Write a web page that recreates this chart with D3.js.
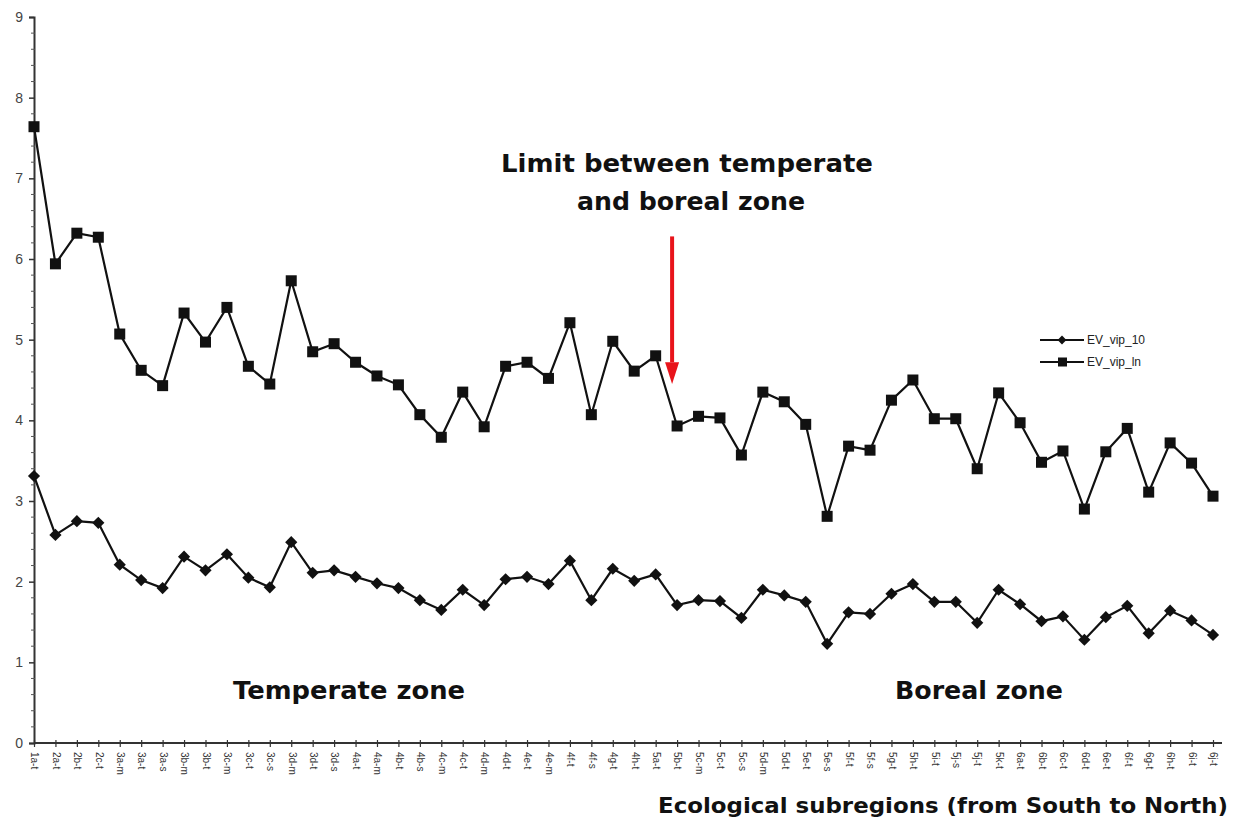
<!DOCTYPE html>
<html>
<head>
<meta charset="utf-8">
<script src="https://cdn.jsdelivr.net/npm/d3@7"></script>
<style>
  html, body { margin: 0; padding: 0; background: #ffffff; }
  svg { display: block; }
</style>
</head>
<body>
<svg id="chart" width="1240" height="823"></svg>
<script>
const categories = ["1a-t","2a-t","2b-t","2c-t","3a-m","3a-t","3a-s","3b-m","3b-t","3c-m",
  "3c-t","3c-s","3d-m","3d-t","3d-s","4a-t","4a-m","4b-t","4b-s","4c-m",
  "4c-t","4d-m","4d-t","4e-t","4e-m","4f-t","4f-s","4g-t","4h-t","5a-t",
  "5b-t","5c-m","5c-t","5c-s","5d-m","5d-t","5e-t","5e-s","5f-t","5f-s",
  "5g-t","5h-t","5i-t","5j-s","5j-t","5k-t","6a-t","6b-t","6c-t","6d-t",
  "6e-t","6f-t","6g-t","6h-t","6i-t","6j-t"];

const evVipLn = [7.64,5.94,6.32,6.27,5.07,4.62,4.43,5.33,4.97,5.40,
  4.67,4.45,5.73,4.85,4.95,4.72,4.55,4.44,4.07,3.79,
  4.35,3.92,4.67,4.72,4.52,5.21,4.07,4.98,4.61,4.80,
  3.93,4.05,4.03,3.57,4.35,4.23,3.95,2.81,3.68,3.63,
  4.25,4.50,4.02,4.02,3.40,4.34,3.97,3.48,3.62,2.90,
  3.61,3.90,3.11,3.72,3.47,3.06];

const evVip10 = [3.31,2.58,2.75,2.73,2.21,2.02,1.92,2.31,2.14,2.34,
  2.05,1.93,2.49,2.11,2.14,2.06,1.98,1.92,1.77,1.65,
  1.90,1.71,2.03,2.06,1.97,2.26,1.77,2.16,2.01,2.09,
  1.71,1.77,1.76,1.55,1.90,1.83,1.75,1.23,1.62,1.60,
  1.85,1.97,1.75,1.75,1.49,1.90,1.72,1.51,1.57,1.28,
  1.56,1.70,1.36,1.64,1.52,1.34];

const yTicks = [0,1,2,3,4,5,6,7,8,9];
const seriesNames = ["EV_vip_10", "EV_vip_ln"];

const svg = d3.select("#chart");
const x = d3.scalePoint().domain(categories).range([34, 1213]);
const y = d3.scaleLinear().domain([0, 9]).range([743, 17]);

const ink = "#111";

// Y axis
const yAxis = d3.axisLeft(y).tickValues(yTicks).tickSize(5).tickPadding(6).tickFormat(d3.format("d"));
const gy = svg.append("g").attr("transform", "translate(34,0)").call(yAxis);
gy.select(".domain").attr("stroke", "#333").attr("stroke-width", 2);
gy.selectAll(".tick line").attr("stroke", "#333").attr("stroke-width", 1.5).attr("x2", -5);
gy.selectAll(".tick text").attr("font-family", "Liberation Sans, Arial, sans-serif").attr("font-size", 14).attr("fill", "#444");
// minor ticks every 0.2
const minor = d3.range(0, 9.001, 0.2).filter(v => Math.abs(v - Math.round(v)) > 1e-6);
svg.append("g").selectAll("line").data(minor).join("line")
  .attr("x1", 31).attr("x2", 35).attr("y1", d => y(d)).attr("y2", d => y(d))
  .attr("stroke", "#555").attr("stroke-width", 1);

// X axis
const xAxis = d3.axisBottom(x).tickSize(4).tickPadding(6);
const gx = svg.append("g").attr("transform", "translate(0,743)").call(xAxis);
gx.select(".domain").attr("stroke", "#333").attr("stroke-width", 2).attr("d", "M34,0H1222");
gx.selectAll(".tick line").attr("stroke", "#333").attr("stroke-width", 1.2).attr("y1", -3);
gx.selectAll(".tick text")
  .attr("font-family", "Liberation Sans, Arial, sans-serif").attr("font-size", 10).attr("fill", "#333")
  .attr("transform", "rotate(90)").attr("text-anchor", "start")
  .attr("x", 9).attr("y", 0).attr("dy", "0.32em");

// Lines
const line = d3.line().x((d, i) => x(categories[i])).y(d => y(d));
svg.append("path").datum(evVipLn).attr("d", line).attr("fill", "none").attr("stroke", ink).attr("stroke-width", 2.2);
svg.append("path").datum(evVip10).attr("d", line).attr("fill", "none").attr("stroke", ink).attr("stroke-width", 2.2);

// Markers
svg.append("g").selectAll("rect").data(evVipLn).join("rect")
  .attr("x", (d, i) => x(categories[i]) - 5.5).attr("y", d => y(d) - 5.5)
  .attr("width", 11).attr("height", 11).attr("fill", ink);
const diamond = d3.symbol().type(d3.symbolDiamond2).size(95);
svg.append("g").selectAll("path").data(evVip10).join("path")
  .attr("d", diamond)
  .attr("transform", (d, i) => `translate(${x(categories[i])},${y(d)})`)
  .attr("fill", ink);

// Legend
const legend = svg.append("g");
seriesNames.forEach((name, k) => {
  const ly = 340 + k * 22;
  legend.append("line").attr("x1", 1040).attr("x2", 1084).attr("y1", ly).attr("y2", ly).attr("stroke", ink).attr("stroke-width", 2);
  if (k === 0) {
    legend.append("path").attr("d", d3.symbol().type(d3.symbolDiamond2).size(50)).attr("transform", `translate(1062,${ly})`).attr("fill", ink);
  } else {
    legend.append("rect").attr("x", 1058).attr("y", ly - 4.5).attr("width", 9).attr("height", 9).attr("fill", ink);
  }
  legend.append("text").attr("x", 1087).attr("y", ly).attr("dy", "0.35em")
    .attr("font-family", "Liberation Sans, Arial, sans-serif").attr("font-size", 12).attr("fill", "#222").text(name);
});

// Annotations
const annFont = "DejaVu Sans, sans-serif";
svg.append("text").attr("x", 687).attr("y", 172).attr("text-anchor", "middle")
  .attr("font-family", annFont).attr("font-weight", "bold").attr("font-size", 24).attr("fill", "#111")
  .attr("textLength", 372).attr("lengthAdjust", "spacingAndGlyphs")
  .text("Limit between temperate");
svg.append("text").attr("x", 691).attr("y", 210).attr("text-anchor", "middle")
  .attr("font-family", annFont).attr("font-weight", "bold").attr("font-size", 24).attr("fill", "#111")
  .attr("textLength", 228).attr("lengthAdjust", "spacingAndGlyphs")
  .text("and boreal zone");

// Red arrow
const ax = x("5b-t") - 5;
svg.append("line").attr("x1", ax).attr("x2", ax).attr("y1", y(6.28)).attr("y2", y(4.72))
  .attr("stroke", "#e8141b").attr("stroke-width", 4);
svg.append("path")
  .attr("d", `M${ax - 7},${y(4.72)}L${ax + 7},${y(4.72)}L${ax},${y(4.45)}Z`)
  .attr("fill", "#e8141b");

svg.append("text").attr("x", 349).attr("y", 699).attr("text-anchor", "middle")
  .attr("font-family", annFont).attr("font-weight", "bold").attr("font-size", 24).attr("fill", "#111")
  .attr("textLength", 232).attr("lengthAdjust", "spacingAndGlyphs")
  .text("Temperate zone");
svg.append("text").attr("x", 979).attr("y", 699).attr("text-anchor", "middle")
  .attr("font-family", annFont).attr("font-weight", "bold").attr("font-size", 24).attr("fill", "#111")
  .attr("textLength", 168).attr("lengthAdjust", "spacingAndGlyphs")
  .text("Boreal zone");
svg.append("text").attr("x", 943).attr("y", 813).attr("text-anchor", "middle")
  .attr("font-family", annFont).attr("font-weight", "bold").attr("font-size", 21).attr("fill", "#111")
  .attr("textLength", 570).attr("lengthAdjust", "spacingAndGlyphs")
  .text("Ecological subregions (from South to North)");
</script>
</body>
</html>
